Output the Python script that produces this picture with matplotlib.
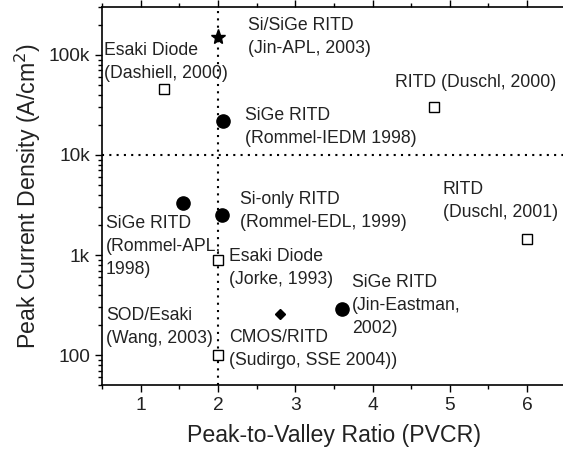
import matplotlib
matplotlib.use("Agg")
import matplotlib.pyplot as plt
from matplotlib.ticker import FixedLocator, FixedFormatter, MultipleLocator, LogLocator, NullFormatter

plt.rcParams["font.family"] = ["Liberation Sans", "DejaVu Sans"]

# data: (PVCR, peak current density in A/cm^2)
star_x = [2.0]
star_y = [150000]

circle_x = [2.06, 1.55, 2.05, 3.6]
circle_y = [22000, 3300, 2500, 290]

square_x = [1.3, 4.8, 6.0, 2.0, 2.0]
square_y = [46000, 30000, 1450, 900, 100]

diamond_x = [2.8]
diamond_y = [260]

labels = [
    "Si/SiGe RITD\n(Jin-APL, 2003)",
    "Esaki Diode\n(Dashiell, 2000)",
    "SiGe RITD\n(Rommel-IEDM 1998)",
    "RITD (Duschl, 2000)",
    "Si-only RITD\n(Rommel-EDL, 1999)",
    "RITD\n(Duschl, 2001)",
    "SiGe RITD\n(Rommel-APL,\n1998)",
    "Esaki Diode\n(Jorke, 1993)",
    "SOD/Esaki\n(Wang, 2003)",
    "CMOS/RITD\n(Sudirgo, SSE 2004))",
    "SiGe RITD\n(Jin-Eastman,\n2002)",
]
# top-left corner of each label, data coords
label_pos = [
    (2.39, 240000), (0.53, 135000), (2.35, 30000), (4.29, 64000),
    (2.28, 4350), (4.91, 5500), (0.55, 2500), (2.14, 1170),
    (0.55, 300), (2.14, 182), (3.73, 645),
]

y_ticks = [100, 1000, 10000, 100000]
y_ticklabels = ["100", "1k", "10k", "100k"]

fig = plt.figure(figsize=(5.63, 4.51), dpi=100)
ax = fig.add_axes([0.181, 0.146, 0.824, 0.838])

ax.axvline(2.0, color="black", ls=(0, (1, 2.5)), lw=1.5, zorder=1)
ax.axhline(10000, color="black", ls=(0, (1, 2.5)), lw=1.5, zorder=1)

ax.plot(star_x, star_y, ls="none", marker="*", ms=11, color="black", zorder=3)
ax.plot(circle_x, circle_y, ls="none", marker="o", ms=9.5, color="black", zorder=3)
ax.plot(square_x, square_y, ls="none", marker="s", ms=7, mfc="white", mec="black",
        mew=1.0, zorder=3)
ax.plot(diamond_x, diamond_y, ls="none", marker="D", ms=5, color="black", zorder=3)

for txt, (tx, ty) in zip(labels, label_pos):
    ax.text(tx, ty, txt, fontsize=12.7, ha="left", va="top", color="#222222",
            linespacing=1.45, zorder=4)

ax.set_yscale("log")
ax.set_xlim(0.5, 6.5)
ax.set_ylim(50, 300000)

ax.xaxis.set_major_locator(MultipleLocator(1))
ax.xaxis.set_minor_locator(MultipleLocator(0.5))
ax.yaxis.set_major_locator(FixedLocator(y_ticks))
ax.yaxis.set_major_formatter(FixedFormatter(y_ticklabels))
ax.yaxis.set_minor_locator(LogLocator(base=10, subs=range(2, 10)))
ax.yaxis.set_minor_formatter(NullFormatter())

ax.tick_params(which="both", direction="out", top=True, right=False,
               labelsize=13.8, colors="black", labelcolor="#222222")
ax.tick_params(which="major", length=5, width=1)
ax.tick_params(which="minor", length=3, width=1)

for sp in ax.spines.values():
    sp.set_linewidth(1.2)

ax.set_xlabel("Peak-to-Valley Ratio (PVCR)", fontsize=16.7, color="#222222", labelpad=7)
ax.set_ylabel("Peak Current Density (A/cm$^2$)", fontsize=16.7, color="#222222", labelpad=4)

fig.savefig("out.png", dpi=100)
